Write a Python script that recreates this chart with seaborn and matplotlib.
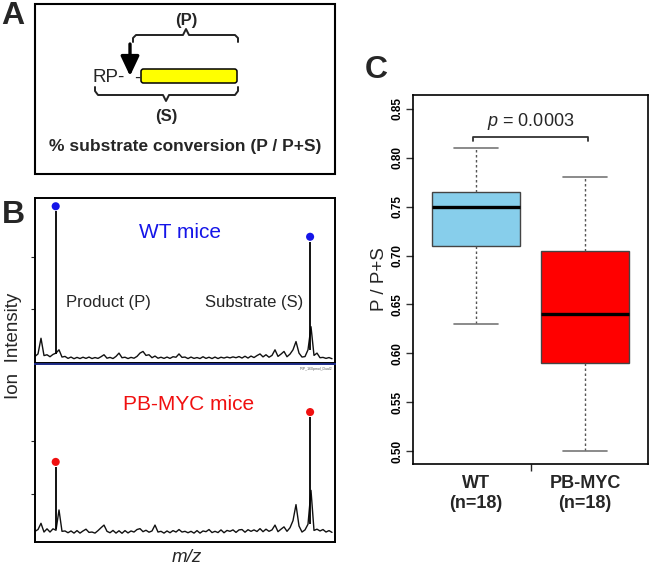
import numpy as np
import pandas as pd
import matplotlib
matplotlib.use("Agg")
import matplotlib.pyplot as plt
from matplotlib.patches import Rectangle, FancyBboxPatch
import seaborn as sns

# ---- panel C: box summaries (min, Q1, median, Q3, max)
groups = ["WT", "PB-MYC"]
group_n = [18, 18]
wt_summary = [0.63, 0.71, 0.75, 0.765, 0.81]
myc_summary = [0.50, 0.59, 0.64, 0.705, 0.78]
box_colors = ["#87CEEB", "#FF0000"]
c_yticks = [0.50, 0.55, 0.60, 0.65, 0.70, 0.75, 0.80, 0.85]
p_text = "$p$ = 0.0003"

# ---- panel B: spectra, m/z on a 0-100 scale, intensity in % of panel height
mz_grid = list(range(100))
wt_baseline = [4, 5.5, 15, 4.5, 5, 3.8, 5.2, 6, 8, 3.6,
               4, 2.8, 3.6, 2.6, 3.4, 2.7, 3.5, 2.8, 3.6, 2.7,
               3.3, 2.8, 3.8, 5, 2.9, 3.4, 2.7, 4, 6, 3.2,
               3.5, 2.7, 3.4, 2.9, 4, 6, 7, 4.6, 5, 3.2,
               4.2, 2.9, 3.5, 2.8, 3.6, 2.8, 3.8, 3.5, 5.5, 3.4,
               3.6, 2.7, 3.6, 2.8, 3.3, 2.7, 3.8, 2.8, 3.5, 2.7,
               3.6, 2.7, 3.5, 3, 3.6, 3.1, 3.7, 3.2, 3.9, 3,
               4.1, 3, 4.2, 3.3, 4.5, 5.5, 3.7, 5, 3.5, 4.6,
               8, 4, 5.4, 7, 3.8, 5.4, 8, 13, 6, 3.6,
               3.9, 8, 22, 4.6, 6, 3.2, 3.4, 2.8, 3.3, 2.6]
myc_baseline = [6, 7, 10.5, 5.6, 7.4, 5.6, 7.4, 6.6, 18, 6,
                6.2, 5.2, 6.2, 5, 6.4, 5, 6.2, 7.2, 5.4, 5.6,
                5, 6.4, 8, 9.5, 6, 5.2, 6.5, 5, 6.3, 4.9,
                6.4, 5.1, 6.2, 5.6, 7, 7.5, 5.8, 6.6, 5.5, 6.2,
                9.5, 5.6, 6, 5, 6.2, 5.2, 6.4, 5.6, 7, 5.6,
                6, 5.2, 6, 5, 6.4, 5, 6.2, 5.8, 7, 5.3,
                6, 5.3, 6.8, 5.2, 6.5, 6, 6.8, 5.4, 6.8, 7,
                5.5, 6.9, 6, 6.8, 5.9, 7.5, 5.8, 7.2, 6, 6.8,
                9.5, 5.8, 7.2, 8.5, 6, 8, 12, 21, 9, 5.6,
                6.8, 10, 29, 6.5, 7.2, 6.2, 7, 5.6, 6.4, 5.4]
peak_mz = [6.9, 91.7]          # product, substrate
wt_peaks = [92, 73.5]
myc_peaks = [42, 70]
wt_yticks = [33, 64]
myc_yticks = [27, 57]

W, H = 650, 566
sns.set_style("ticks")
plt.rcParams["font.family"] = ["Liberation Sans", "DejaVu Sans"]
plt.rcParams["mathtext.fontset"] = "custom"
plt.rcParams["mathtext.rm"] = "Liberation Sans"
plt.rcParams["mathtext.it"] = "Liberation Sans:italic"

fig = plt.figure(figsize=(W / 100, H / 100), dpi=100)


def px_axes(x0, y0, x1, y1):
    # axes from pixel box (top-left origin)
    return fig.add_axes([x0 / W, 1 - y1 / H, (x1 - x0) / W, (y1 - y0) / H])


# overlay in pixel coords for the diagram and free labels
ov = fig.add_axes([0, 0, 1, 1])
ov.set_xlim(0, W)
ov.set_ylim(H, 0)
ov.axis("off")
ov.set_zorder(10)

# ---- panel A
ov.add_patch(Rectangle((35, 4), 300, 170, fill=False, ec="black", lw=1.5))
ov.add_patch(FancyBboxPatch((141, 69), 96, 14, boxstyle="round,pad=0,rounding_size=2.5",
                            fc="#FFFF00", ec="black", lw=1.1))
ov.text(93, 78, "RP-", fontsize=13.5, ha="left", va="center")
ov.text(134, 78, "-", fontsize=13.5, ha="left", va="center")
ov.annotate("", xy=(130, 76), xytext=(130, 44),
            arrowprops=dict(arrowstyle="-|>,head_width=0.4,head_length=0.85",
                            lw=2.4, color="black", mutation_scale=14,
                            shrinkA=0, shrinkB=0))
ov.plot([133, 133, 136, 183, 186, 189, 235, 238, 238],
        [42, 38, 35, 35, 29, 35, 35, 38, 42], color="#222222", lw=1.4)
ov.plot([95, 95, 98, 163, 166, 169, 235, 238, 238],
        [87, 91, 95, 95, 101, 95, 95, 91, 87], color="#222222", lw=1.4)
ov.text(186, 21, "(P)", fontsize=12, fontweight="bold", ha="center", va="center")
ov.text(166, 116, "(S)", fontsize=12, fontweight="bold", ha="center", va="center")
ov.text(185, 147, "% substrate conversion (P / P+S)", fontsize=12.5,
        fontweight="bold", ha="center", va="center")

# panel letters
ov.text(13, 16, "A", fontsize=23, fontweight="bold", ha="center", va="center")
ov.text(13, 215, "B", fontsize=23, fontweight="bold", ha="center", va="center")
ov.text(376, 70, "C", fontsize=23, fontweight="bold", ha="center", va="center")

# ---- panel B
axt = px_axes(35, 198, 335, 363)
axb = px_axes(35, 364, 335, 542)
specs = [(axt, wt_baseline, wt_peaks, "#1515E8", wt_yticks),
         (axb, myc_baseline, myc_peaks, "#F01010", myc_yticks)]
for ax, base, peaks, dot, yt in specs:
    sns.lineplot(x=mz_grid, y=base, ax=ax, color="#111111", lw=1.0)
    ax.vlines(peak_mz, [base[int(m)] for m in peak_mz], peaks, color="black", lw=1.3)
    sns.scatterplot(x=peak_mz, y=[p + 3 for p in peaks], ax=ax, color=dot,
                    s=34, edgecolor="none")
    ax.set_xlim(0, 100)
    ax.set_ylim(0, 100)
    ax.set_xticks([])
    ax.set_yticks(yt)
    ax.set_yticklabels([])
    ax.tick_params(axis="y", length=3, width=0.8, direction="out")
    for s in ax.spines.values():
        s.set_color("black")
        s.set_linewidth(1.4)
axb.spines["top"].set_color("#1c2a86")

ov.text(180, 232, "WT mice", fontsize=15, color="#1515E8", ha="center", va="center")
ov.text(189, 405, "PB-MYC mice", fontsize=15, color="#F01010", ha="center", va="center")
ov.text(108, 303, "Product (P)", fontsize=12, ha="center", va="center")
ov.text(254, 303, "Substrate (S)", fontsize=12, ha="center", va="center")
ov.text(333, 369, "*RP_160pmol_Dual2", fontsize=2.5, color="#555555", ha="right", va="center")
ov.text(14, 346, "Ion  Intensity", fontsize=13.5, rotation=90, ha="center", va="center")
ov.text(187, 557, "m/z", fontsize=13.5, style="italic", ha="center", va="center")

# ---- panel C
axc = px_axes(413, 95, 648, 464)
labels = [f"{g}\n(n={n})" for g, n in zip(groups, group_n)]
df = pd.DataFrame({"group": [labels[0]] * len(wt_summary) + [labels[1]] * len(myc_summary),
                   "ratio": wt_summary + myc_summary})
sns.boxplot(data=df, x="group", y="ratio", hue="group", order=labels,
            palette=dict(zip(labels, box_colors)), saturation=1, width=0.8,
            whis=(0, 100), linecolor="#444444", linewidth=1, showfliers=False,
            legend=False, ax=axc,
            whiskerprops=dict(linestyle=(0, (1.8, 1.8)), color="#555555", linewidth=1),
            capprops=dict(color="#777777", linewidth=1.2),
            medianprops=dict(color="black", linewidth=2.4))
axc.set_xlim(-0.578, 1.578)
axc.set_ylim(0.4867, 0.8643)
axc.set_yticks(c_yticks)
axc.set_yticklabels([f"{v:.2f}" for v in c_yticks], rotation=90, va="center",
                    fontweight="bold", fontsize=8.5)
axc.tick_params(axis="y", length=5, width=1, pad=2, colors="#333333", labelcolor="black")
axc.set_xticks([0, 1])
axc.set_xticklabels(labels, fontweight="bold", fontsize=13)
axc.tick_params(axis="x", length=0, pad=8)
axc.set_xticks([0.5], minor=True)
axc.tick_params(axis="x", which="minor", length=5, width=1)
axc.set_xlabel("")
axc.set_ylabel("P / P+S", fontsize=13.5)
axc.yaxis.set_label_coords(-0.105, 0.5)
for s in axc.spines.values():
    s.set_color("black")
    s.set_linewidth(1.2)

# significance bracket
axc.plot([-0.03, -0.03, 1.03, 1.03], [0.817, 0.8214, 0.8214, 0.817], color="#333333", lw=1.3)
axc.text(0.5, 0.8367, p_text, fontsize=13, ha="center", va="center")

fig.savefig("out.png", dpi=100)
